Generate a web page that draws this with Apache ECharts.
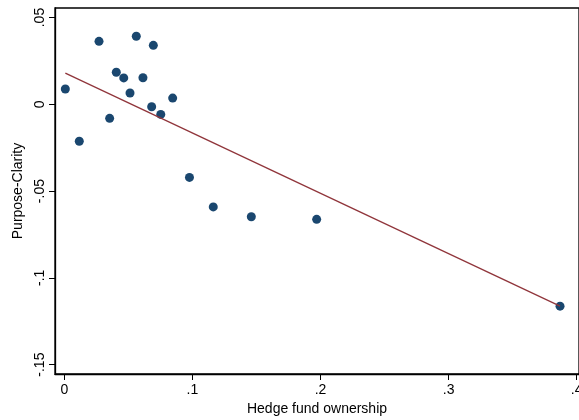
<!DOCTYPE html>
<html>
<head>
<meta charset="utf-8">
<script src="https://cdn.jsdelivr.net/npm/echarts@6/dist/echarts.min.js"></script>
<style>
html, body { margin: 0; padding: 0; background: #fff; }
#chart { width: 579px; height: 420px; }
</style>
</head>
<body>
<div id="chart"></div>
<script>
// hedge fund ownership vs purpose-clarity
var hfOwn = [0.0008, 0.0117, 0.0271, 0.0354, 0.0406, 0.0464, 0.0513, 0.0562, 0.0614,
    0.0682, 0.0695, 0.0753, 0.0846, 0.0977, 0.1163, 0.1460, 0.1970, 0.3870];
var clarity = [0.0088, -0.0213, 0.0363, -0.0081, 0.0185, 0.0152, 0.0065, 0.0392, 0.0153,
    -0.0014, 0.0340, -0.0058, 0.0036, -0.0421, -0.0591, -0.0648, -0.0663, -0.1163];
// fitted line end points
var fitX = [0.0008, 0.3870];
var fitY = [0.0180, -0.1163];
var xTicks = [0, 0.1, 0.2, 0.3, 0.4];
var yTicks = [-0.15, -0.1, -0.05, 0, 0.05];

function stataFmt(v) {
    var s = String(Math.round(v * 1000) / 1000);
    return s.replace('0.', '.');
}

var myChart = echarts.init(document.getElementById('chart'));
var pts = hfOwn.map(function (x, i) { return [x, clarity[i]]; });
var fit = fitX.map(function (x, i) { return [x, fitY[i]]; });
var font = 'Liberation Sans, Arial, Helvetica, sans-serif';

var option = {
    animation: false,
    backgroundColor: '#fff',
    grid: {
        left: 55, top: 8, right: 0, bottom: 46,
        outerBoundsMode: 'none',
        containLabel: false,
        show: true, borderColor: '#000', borderWidth: 1.3
    },
    xAxis: {
        type: 'value',
        min: -0.00726,
        max: 0.4018,
        name: 'Hedge fund ownership',
        nameLocation: 'middle',
        nameGap: 28,
        nameTextStyle: { color: '#000', fontSize: 14, fontFamily: font },
        axisLine: { show: true, onZero: false, lineStyle: { color: '#000', width: 1.3 } },
        axisTick: { show: true, length: 6, customValues: xTicks, lineStyle: { color: '#000' } },
        axisLabel: { customValues: xTicks, color: '#000', fontSize: 14, fontFamily: font, margin: 9, formatter: stataFmt },
        splitLine: { show: false }
    },
    yAxis: {
        type: 'value',
        min: -0.1554,
        max: 0.0555,
        name: 'Purpose-Clarity',
        nameLocation: 'middle',
        nameGap: 28,
        nameTextStyle: { color: '#000', fontSize: 14, fontFamily: font },
        axisLine: { show: true, onZero: false, lineStyle: { color: '#000', width: 1.3 } },
        axisTick: { show: true, length: 6, customValues: yTicks, lineStyle: { color: '#000' } },
        axisLabel: { customValues: yTicks, rotate: 90, color: '#000', fontSize: 14, fontFamily: font, margin: 8, formatter: stataFmt },
        splitLine: { show: false }
    },
    series: [{
        type: 'scatter',
        data: pts,
        symbolSize: 9,
        itemStyle: { color: '#1a476f', opacity: 1 },
        z: 2
    }, {
        type: 'line',
        data: fit,
        symbol: 'none',
        lineStyle: { color: '#90353b', width: 1.3 },
        z: 3
    }]
};
myChart.setOption(option);
</script>
</body>
</html>
